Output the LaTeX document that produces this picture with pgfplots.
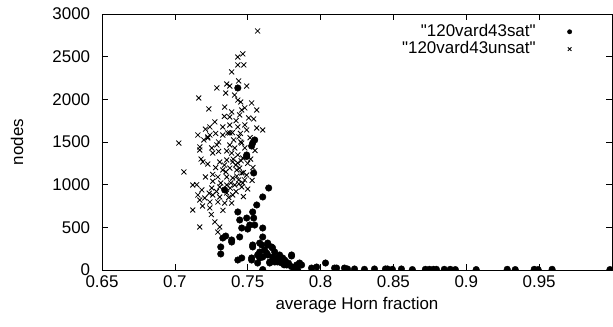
\documentclass[border=0pt]{standalone}
\usepackage{fontspec}
\setmainfont{Liberation Sans}
\usepackage{pgfplots}
\pgfplotsset{compat=1.18}
\pgfplotsset{farmark/.style={legend image code/.code={\draw[##1,only marks,mark size=#1] plot coordinates {(32bp,0bp)}; \path[draw=none] (0bp,0bp) -- (40bp,0bp);}}}
\begin{document}
\fontsize{17}{20}\selectfont
\begin{tikzpicture}
\begin{axis}[
 at={(0,0)}, anchor=south west,
 scale only axis, width=510bp, height=256bp,
 xmin=0.65, xmax=1.0, ymin=0, ymax=3000,
 xtick={0.65,0.7,0.75,0.8,0.85,0.9,0.95},
 xticklabels={0.65,0.7,0.75,0.8,0.85,0.9,0.95},
 ytick={0,500,1000,1500,2000,2500,3000},
 yticklabels={0,500,1000,1500,2000,2500,3000},
 yticklabel style={xshift=-6bp},
 tick align=inside, major tick length=6bp,
 axis line style={line width=0.9bp},
 every tick/.style={black, line width=0.6bp},
 xlabel={average Horn fraction}, ylabel={nodes},
 x label style={at={(axis description cs:0.5,-0.137)},anchor=center},
 y label style={at={(axis description cs:-0.1667,0.5)},anchor=center},
 legend plot pos=right, legend cell align=right,
 legend style={draw=none, fill=none, inner sep=0pt, at={(0.933,0.968)}, anchor=north east, row sep=-1.5bp, nodes={inner sep=2bp}},
 clip marker paths=true,
]
\addplot[only marks, mark=*, mark size=3.3bp, black, farmark=2.2bp] coordinates {
(0.7432,2133)(0.7534,1488)(0.7548,1524)(0.7527,1453)(0.7493,1348)(0.7493,1330)
(0.7541,1137)(0.7644,961)(0.7603,856)(0.7562,762)(0.7342,938)
(0.7432,680)(0.7534,680)(0.7493,609)(0.7445,586)(0.7541,609)
(0.7548,527)(0.7514,527)(0.7459,492)(0.7500,480)(0.7603,492)
(0.7349,398)(0.7329,375)(0.7390,352)(0.7445,387)(0.7390,328)
(0.7315,270)(0.7315,188)(0.7432,117)(0.7459,141)(0.7527,141)(0.7527,117)
(0.7534,270)(0.7534,293)(0.7582,316)(0.7603,387)(0.7616,234)(0.7637,293)
(0.7637,316)(0.7671,258)(0.7664,270)(0.7596,293)
(0.7568,176)(0.7603,152)(0.7637,176)(0.7671,152)(0.7705,141)(0.7740,141)
(0.7801,164)(0.7801,176)(0.7582,211)(0.7630,199)(0.7685,211)(0.7719,176)(0.7582,141)
(0.7603,5)(0.7685,94)(0.7733,82)(0.7767,59)(0.7836,59)(0.7870,59)(0.7842,5)
(0.7651,82)(0.7568,82)(0.7651,94)(0.7705,94)(0.7753,117)
(0.7760,100)(0.7780,80)(0.7720,120)(0.7690,130)(0.7800,40)(0.7750,60)(0.7820,30)
(0.7856,82)(0.7938,23)(0.7973,35)(0.8034,82)(0.8096,23)(0.8110,23)(0.8164,23)
(0.8185,12)(0.8233,12)(0.8301,8)(0.8370,12)(0.8445,12)(0.8459,12)(0.8493,8)
(0.8555,12)(0.8630,5)(0.8719,8)(0.8747,8)(0.8774,8)(0.8795,8)(0.8849,8)
(0.8890,8)(0.8925,5)(0.9068,5)(0.9281,8)(0.9336,5)(0.9466,8)(0.9493,5)
(0.9589,8)(0.9986,5)
};
\addlegendentry{\textquotedbl 120vard43sat\textquotedbl}
\addplot[only marks, mark=x, mark size=3.5bp, black, mark options={line width=0.8bp}, farmark=2.6bp] coordinates {
(0.7568,2801)(0.7432,2496)(0.7466,2532)(0.7432,2403)(0.7473,2403)(0.7390,2321)
(0.7438,2215)(0.7356,2180)(0.7377,2156)(0.7493,2156)(0.7288,2133)(0.7349,2074)
(0.7164,2016)(0.7432,1992)(0.7452,1969)(0.7527,1957)(0.7233,1887)(0.7342,1910)
(0.7390,1852)(0.7562,1875)(0.7459,1875)(0.7377,1793)(0.7445,1817)(0.7507,1782)
(0.7541,1770)(0.7274,1735)(0.7240,1676)(0.7329,1676)(0.7377,1699)(0.7432,1676)
(0.7493,1641)(0.7562,1664)(0.7603,1641)(0.7158,1582)(0.7226,1559)(0.7199,1524)
(0.7329,1582)(0.7377,1606)(0.7027,1488)(0.7459,1488)(0.7171,1442)(0.7226,1547)
(0.7240,1582)(0.7363,1606)(0.7253,1430)(0.7377,1465)(0.7452,1500)(0.7288,1465)
(0.7171,1406)(0.7260,1371)(0.7390,1371)(0.7192,1266)(0.7226,1242)(0.7308,1266)
(0.7356,1289)(0.7397,1266)(0.7432,1254)(0.7062,1149)(0.7329,1172)(0.7377,1195)
(0.7425,1172)(0.7459,1137)(0.7493,1113)(0.7295,1090)(0.7356,1090)(0.7397,1078)
(0.7438,1055)(0.7479,1055)(0.7123,996)(0.7185,938)(0.7253,961)(0.7308,973)
(0.7356,996)(0.7411,996)(0.7459,973)(0.7500,949)(0.7158,879)(0.7205,844)
(0.7260,879)(0.7308,856)(0.7356,902)(0.7397,879)(0.7171,820)(0.7240,797)
(0.7295,797)(0.7342,785)(0.7390,785)(0.7123,703)(0.7240,727)(0.7171,504)
(0.7274,563)(0.7308,504)(0.7295,445)
(0.7411,1430)(0.7432,1348)(0.7466,1313)(0.7404,1524)(0.7480,1430)(0.7356,1395)
(0.7418,1230)(0.7445,1195)(0.7384,1020)(0.7425,1100)(0.7466,1020)(0.7350,1150)
(0.7280,1200)(0.7315,1020)(0.7260,1040)(0.7210,1090)(0.7236,900)(0.7286,920)
(0.7420,920)(0.7470,860)(0.7500,1250)(0.7520,1300)(0.7536,1200)(0.7550,1400)
(0.7516,1550)(0.7480,1700)(0.7420,1750)(0.7340,1800)(0.7300,1500)(0.7210,1650)
(0.7180,1300)(0.7150,1000)(0.7280,1600)(0.7450,1600)(0.7480,1900)(0.7410,2050)
(0.7530,1050)(0.7250,650)(0.7190,750)(0.7330,700)(0.7370,850)
(0.7395,1610)(0.7440,1560)(0.7400,1300)(0.7455,1280)(0.7380,960)(0.7440,1010)
(0.7470,1140)(0.7340,1230)(0.7260,1120)(0.7300,1390)
};
\addlegendentry{\textquotedbl 120vard43unsat\textquotedbl}
\end{axis}
\pgfresetboundingbox
\path (-102bp,-57bp) rectangle (511bp,270bp);
\end{tikzpicture}
\end{document}
